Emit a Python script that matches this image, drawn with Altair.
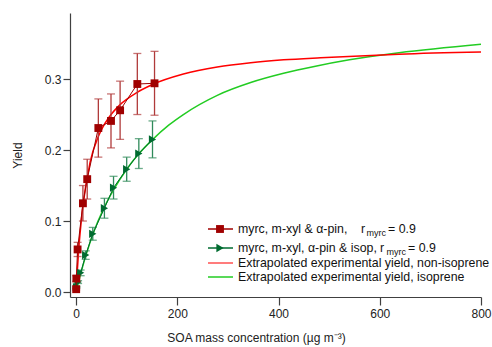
import altair as alt
import pandas as pd

# ---------------- data ----------------
red_x = [0.2, 0.5, 3.0, 13.5, 22.0, 44.0, 69.0, 87.0, 121.0, 155.0]
red_y = [0.004, 0.019, 0.060, 0.125, 0.159, 0.231, 0.241, 0.256, 0.293, 0.294]
red_err = [0.001, 0.004, 0.010, 0.025, 0.028, 0.041, 0.038, 0.041, 0.043, 0.045]

green_x = [0.8, 4.0, 9.0, 19.0, 33.0, 56.0, 74.0, 100.0, 124.0, 151.0]
green_y = [0.007, 0.014, 0.027, 0.052, 0.082, 0.118, 0.147, 0.173, 0.195, 0.215]
green_err = [0.001, 0.002, 0.004, 0.006, 0.009, 0.014, 0.016, 0.017, 0.021, 0.026]

fit_red_x = [0, 5, 12.5, 27.7, 44, 67, 87, 120, 150, 212, 279, 345, 410, 483, 638, 800]
fit_red_y = [0.003, 0.058, 0.115, 0.183, 0.219, 0.248, 0.264, 0.281, 0.292, 0.307, 0.317, 0.323,
             0.327, 0.330, 0.335, 0.338]

fit_green_x = [0, 10, 20, 35, 54, 74, 100, 123, 150, 183, 212, 279, 345, 410, 473, 540, 638, 800]
fit_green_y = [0.0, 0.028, 0.053, 0.085, 0.117, 0.144, 0.173, 0.194, 0.214, 0.235, 0.250, 0.277,
               0.295, 0.308, 0.318, 0.327, 0.337, 0.349]

x_ticks = [0, 200, 400, 600, 800]
y_ticks = [0.0, 0.1, 0.2, 0.3]

legend_main = ["myrc, m-xyl & α-pin,", "myrc, m-xyl, α-pin & isop,",
               "Extrapolated experimental yield, non-isoprene",
               "Extrapolated experimental yield, isoprene"]
legend_r = "r"
legend_sub = "myrc"
legend_tail = "= 0.9"

# ---------------- styling ----------------
FONT = "Liberation Sans"
RED_M = "#a00000"
RED_E = "#b03a3a"
RED_FIT = "#ff0000"
GRN_M = "#006b30"
GRN_E = "#2f8a5a"
GRN_FIT = "#22cc22"
LFS = 12.35

xs = alt.Scale(domain=[-12, 800], nice=False, zero=False)
ys = alt.Scale(domain=[-0.007, 0.393], nice=False, zero=False)

X_AX = alt.Axis(values=x_ticks, title="SOA mass concentration (µg m⁻³)", grid=False,
                tickSize=8, labelPadding=3, labelFlush=False, titleX=186, titleY=40,
                titleBaseline="middle", titleAlign="center")
Y_AX = alt.Axis(values=y_ticks, format=".1f", title="Yield", grid=False,
                tickSize=7, labelPadding=2, labelFlush=False, titleX=-53, titleY=142, titleAngle=-90,
                titleBaseline="middle", titleAlign="center")

def X(field):
    return alt.X(field, type="quantitative", scale=xs, axis=X_AX)

def Y(field):
    return alt.Y(field, type="quantitative", scale=ys, axis=Y_AX)

red = pd.DataFrame({"x": red_x, "y": red_y, "err": red_err})
red["lo"] = red["y"] - red["err"]
red["hi"] = red["y"] + red["err"]
grn = pd.DataFrame({"x": green_x, "y": green_y, "err": green_err})
grn["lo"] = grn["y"] - grn["err"]
grn["hi"] = grn["y"] + grn["err"]
fr = pd.DataFrame({"x": fit_red_x, "y": fit_red_y})
fg = pd.DataFrame({"x": fit_green_x, "y": fit_green_y})

layers = []
# fit curves
layers.append(alt.Chart(fg).mark_line(color=GRN_FIT, strokeWidth=1.5, interpolate="monotone", clip=True)
              .encode(x=X("x"), y=Y("y")))
layers.append(alt.Chart(fr).mark_line(color=RED_FIT, strokeWidth=1.5, interpolate="monotone", clip=True)
              .encode(x=X("x"), y=Y("y")))

for df, ecol, mcol, shape, size in [(grn, GRN_E, GRN_M, "triangle-right", 70),
                                    (red, RED_E, RED_M, "square", 62)]:
    base = alt.Chart(df)
    layers.append(base.mark_rule(color=ecol, strokeWidth=1.3).encode(x=X("x"), y=Y("lo"), y2="hi"))
    layers.append(base.mark_tick(color=ecol, orient="horizontal", size=8, thickness=1.3)
                  .encode(x=X("x"), y=Y("lo")))
    layers.append(base.mark_tick(color=ecol, orient="horizontal", size=8, thickness=1.3)
                  .encode(x=X("x"), y=Y("hi")))
    layers.append(base.mark_line(color=mcol, strokeWidth=1).encode(x=X("x"), y=Y("y")))
    layers.append(base.mark_point(shape=shape, filled=True, size=size, color=mcol, opacity=1)
                  .encode(x=X("x"), y=Y("y")))

# ---------------- manual legend (pixel positions inside the plot area) ----------------
dummy = pd.DataFrame({"k": [0]})
rows_y = [216, 235, 250, 264]
sym_x0, sym_x1, sym_xc, txt_x = 138, 163, 150, 168
r_x = [291, 310]
sub_x = [296.5, 316.5]
tail_x = [318, 338]
sym_cols = [RED_M, GRN_M, "#ff5050", GRN_FIT]

def txt(s, x, y, size=LFS):
    return (alt.Chart(dummy).mark_text(text=s, align="left", baseline="middle",
                                        font=FONT, fontSize=size, color="#111")
            .encode(x=alt.value(x), y=alt.value(y)))

for i, ry in enumerate(rows_y):
    layers.append(alt.Chart(dummy).mark_rule(color=sym_cols[i], strokeWidth=1.5)
                  .encode(x=alt.value(sym_x0), x2=alt.value(sym_x1), y=alt.value(ry)))
    layers.append(txt(legend_main[i], txt_x, ry))
for i, (shape, size) in enumerate([("square", 62), ("triangle-right", 70)]):
    layers.append(alt.Chart(dummy).mark_point(shape=shape, filled=True, size=size, color=sym_cols[i], opacity=1)
                  .encode(x=alt.value(sym_xc), y=alt.value(rows_y[i])))
    layers.append(txt(legend_r, r_x[i], rows_y[i]))
    layers.append(txt(legend_sub, sub_x[i], rows_y[i] + 4, 9))
    layers.append(txt(legend_tail, tail_x[i], rows_y[i]))

chart = alt.layer(*layers).properties(
    width=411, height=284,
    autosize=alt.AutoSizeParams(type="none"),
    padding={"left": 70, "top": 13, "right": 11, "bottom": 50},
).configure_view(stroke=None).configure_axis(
    domainColor="#404040", tickColor="#404040", labelColor="#222", titleColor="#222",
    labelFont=FONT, titleFont=FONT, labelFontSize=12, titleFontSize=12,
    titleFontWeight="normal", domainWidth=1.2, tickWidth=1.2,
)

chart.save("out.html", embed_options={"renderer": "svg", "actions": False})
